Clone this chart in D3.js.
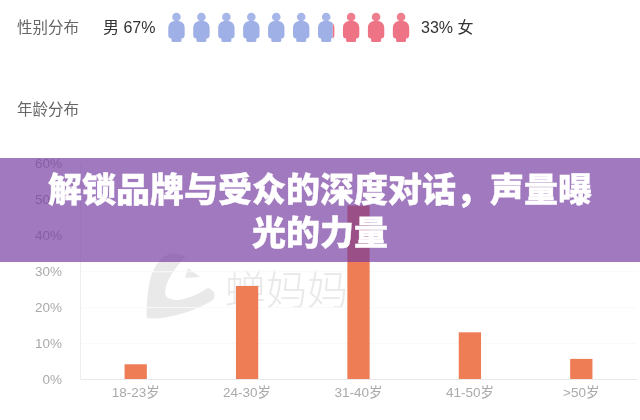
<!DOCTYPE html>
<html>
<head>
<meta charset="utf-8">
<script src="https://cdn.jsdelivr.net/npm/d3@7"></script>
<style>
  html, body { margin: 0; padding: 0; background: #fff; }
  svg { display: block; }
  text { font-family: "Liberation Sans", "Noto Sans CJK SC", sans-serif; }
</style>
</head>
<body>
<svg id="chart" width="640" height="420"></svg>
<script>
var ageGroups = ["18-23岁", "24-30岁", "31-40岁", "41-50岁", ">50岁"];
var ageShares = [4.1, 25.9, 48.3, 13, 5.6];
var yTicks = [0, 10, 20, 30, 40, 50, 60];
var genderLabels = ["男 67%", "33% 女"];
var malePct = 67;
var iconCount = d3.range(10);
var fontStack = "\"Liberation Sans\", \"Noto Sans CJK SC\", sans-serif";

var svg = d3.select("#chart");

var xScale = d3.scaleBand()
  .domain(ageGroups)
  .range([80, 637])
  .paddingInner(0.8)
  .paddingOuter(0.4);

var yScale = d3.scaleLinear()
  .domain([0, 60])
  .range([379, 163.5]);

var g = svg.append("g").style("filter", "blur(0.35px)");

// section titles
g.selectAll(".sectionTitle")
  .data([["性别分布", 27], ["年龄分布", 109]])
  .enter()
  .append("text")
    .attr("x", 17)
    .attr("y", function(d) { return d[1]; })
    .attr("dy", "0.36em")
    .attr("font-size", 15.5)
    .attr("fill", "#666")
    .text(function(d) { return d[0]; });

// gender row
g.append("text").attr("x", 103).attr("y", 27).attr("dy", "0.36em")
  .attr("font-size", 16).attr("fill", "#333").text(genderLabels[0]);
g.append("text").attr("x", 421).attr("y", 27).attr("dy", "0.36em")
  .attr("font-size", 16).attr("fill", "#333").text(genderLabels[1]);

var iconScale = d3.scaleBand().domain(iconCount).range([164, 413.5]);
// percent to x, the split falls inside the seventh person
var pctScale = d3.scaleLinear().domain([0, 100]).range([168, 412.5]);
var splitX = pctScale(malePct) + 1;

var defs = svg.append("defs");
defs.append("clipPath").attr("id", "maleClip").append("rect")
  .attr("x", 0).attr("y", 0).attr("width", splitX).attr("height", 60);
defs.append("clipPath").attr("id", "femaleClip").append("rect")
  .attr("x", splitX).attr("y", 0).attr("width", 640 - splitX).attr("height", 60);

var personPath = "M-4,10.5 C-6.8,11.5 -8.2,14 -8.2,17 L-8.2,24 C-8.2,26.5 -7,27.5 -5,27.5 L-5,29.5 C-5,30.5 -4,31 -3,31 L3,31 C4,31 5,30.5 5,29.5 L5,27.5 C7,27.5 8.2,26.5 8.2,24 L8.2,17 C8.2,14 6.8,11.5 4,10.5 C2,9.5 -2,9.5 -4,10.5 Z";

function drawPeople(clipId, color) {
  var layer = g.append("g").attr("clip-path", "url(#" + clipId + ")");
  var people = layer.selectAll(".person")
    .data(iconCount)
    .enter()
    .append("g")
      .attr("transform", function(d) {
        return "translate(" + (iconScale(d) + iconScale.bandwidth() / 2) + ",11)";
      })
      .attr("fill", color);
  people.append("circle").attr("cy", 6).attr("r", 4.3).attr("opacity", 0.92);
  people.append("path").attr("d", personPath);
}
drawPeople("maleClip", "#9fb0e6");
drawPeople("femaleClip", "#ee7485");

// watermark
g.append("path")
  .attr("d", "M172,253 C160,256 152,268 149,285 C147,297 146,310 147,318 C160,321 195,312 213,300 C216,296 215,290 208,288 C198,294 188,299 178,300 C170,300 165,298 165,292 C166,280 175,268 186,256 Z M188,268 L200,277 L185,278 Z")
  .attr("fill", "#e9e9e9");
g.append("text")
  .attr("x", 225)
  .attr("y", 305)
  .attr("font-size", 41)
  .attr("font-weight", 300)
  .attr("fill", "#e9e9e9")
  .text("蝉妈妈");

// gridlines
g.append("g")
  .attr("transform", "translate(80,0)")
  .call(d3.axisLeft(yScale).tickValues(yTicks.filter(function(d) { return d > 0; })).tickSize(-557).tickFormat(""))
  .call(function(s) { s.select(".domain").remove(); })
  .selectAll("line")
    .attr("stroke", "#f9f9f9");

// y axis
var yAxis = g.append("g")
  .attr("transform", "translate(80,0)")
  .call(d3.axisLeft(yScale).tickValues(yTicks).tickSize(0).tickPadding(18).tickFormat(function(d) { return d + "%"; }));
yAxis.select(".domain").attr("stroke", "#eeeeee");
yAxis.selectAll("text")
  .attr("font-size", 13.5)
  .attr("font-family", fontStack)
  .attr("fill", "#aaa");

// bars
g.selectAll(".bar")
  .data(ageGroups)
  .enter()
  .append("rect")
    .attr("x", function(d) { return xScale(d); })
    .attr("width", xScale.bandwidth())
    .attr("y", function(d, i) { return yScale(ageShares[i]); })
    .attr("height", function(d, i) { return yScale(0) - yScale(ageShares[i]); })
    .attr("fill", "#ee7d55");

// x axis
var xAxis = g.append("g")
  .attr("transform", "translate(0,379)")
  .call(d3.axisBottom(xScale).tickSize(0).tickPadding(8));
xAxis.select(".domain").attr("stroke", "#e8e8e8");
xAxis.selectAll("text")
  .attr("font-size", 13.5)
  .attr("font-family", fontStack)
  .attr("fill", "#aaa");

// purple banner on top of everything
svg.append("rect")
  .attr("x", 0)
  .attr("y", 158)
  .attr("width", 640)
  .attr("height", 104)
  .attr("fill", "#733a9f")
  .attr("fill-opacity", 0.68);

svg.selectAll(".bannerTitle")
  .data([["解锁品牌与受众的深度对话，声量曝", 190], ["光的力量", 233]])
  .enter()
  .append("text")
    .attr("x", 320)
    .attr("y", function(d) { return d[1]; })
    .attr("dy", "0.36em")
    .attr("text-anchor", "middle")
    .attr("font-family", "\"Noto Sans CJK SC\", sans-serif")
    .attr("font-size", 34)
    .attr("font-weight", 900)
    .attr("fill", "#fff")
    .attr("stroke", "#fff")
    .attr("stroke-width", 0.4)
    .text(function(d) { return d[0]; });
</script>
</body>
</html>
